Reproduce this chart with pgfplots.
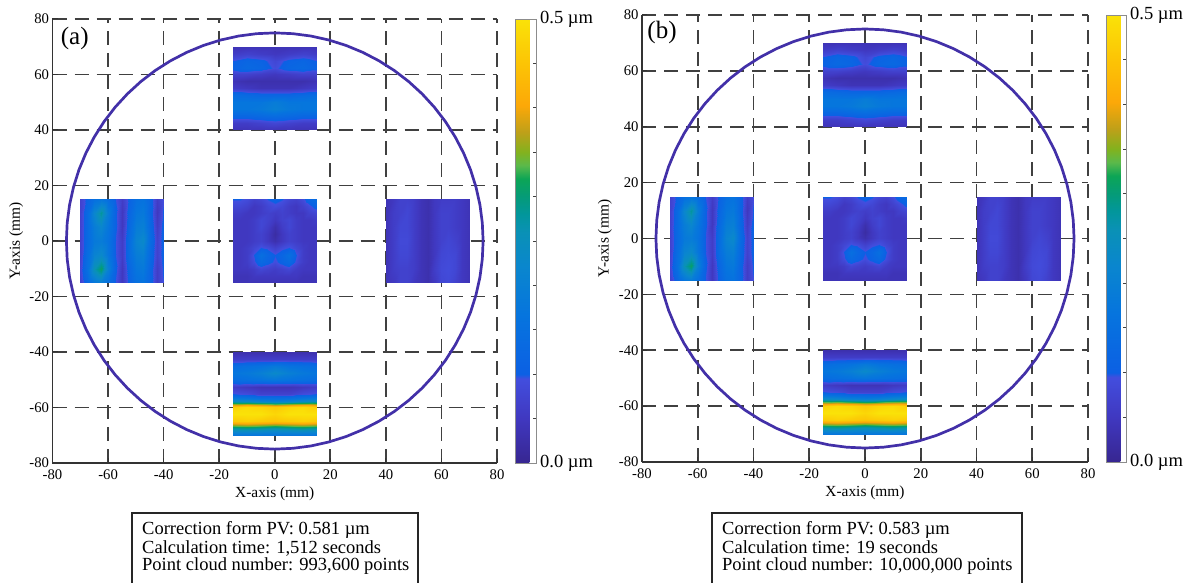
\documentclass[border=0pt]{standalone}
\usepackage{fontspec}
\setmainfont{Liberation Serif}
\usepackage{pgfplots}
\usepackage{pgfplotstable}
\pgfplotsset{compat=1.18}
\definecolor{circ}{RGB}{66,48,168}

\pgfplotsset{
  colormap={parulax}{
    rgb255(0pt)=(55,38,145);
    rgb255(100pt)=(64,56,192);
    rgb255(190pt)=(66,78,222);
    rgb255(200pt)=(12,96,228);
    rgb255(330pt)=(6,116,222);
    rgb255(440pt)=(10,134,206);
    rgb255(520pt)=(10,145,182);
    rgb255(560pt)=(2,150,156);
    rgb255(600pt)=(5,155,120);
    rgb255(640pt)=(12,165,86);
    rgb255(670pt)=(90,185,75);
    rgb255(700pt)=(130,178,30);
    rgb255(745pt)=(190,160,25);
    rgb255(805pt)=(252,168,8);
    rgb255(900pt)=(252,196,5);
    rgb255(1000pt)=(250,226,8)
  },
}

% ---------- surface patches (x y value in micrometre) ----------
\pgfplotstableread[row sep=\\]{
x y c\\
-15 70 0.04\\ -10 70 0.04\\ -5 70 0.04\\ 0 70 0.04\\ 5 70 0.04\\ 10 70 0.04\\ 15 70 0.04\\
-15 67.5 0.06\\ -10 67.5 0.07\\ -5 67.5 0.06\\ 0 67.5 0.05\\ 5 67.5 0.06\\ 10 67.5 0.07\\ 15 67.5 0.06\\
-15 65 0.10\\ -10 65 0.12\\ -5 65 0.11\\ 0 65 0.08\\ 5 65 0.11\\ 10 65 0.12\\ 15 65 0.10\\
-15 62.5 0.11\\ -10 62.5 0.13\\ -5 62.5 0.12\\ 0 62.5 0.09\\ 5 62.5 0.12\\ 10 62.5 0.13\\ 15 62.5 0.11\\
-15 60 0.07\\ -10 60 0.07\\ -5 60 0.06\\ 0 60 0.05\\ 5 60 0.06\\ 10 60 0.07\\ 15 60 0.07\\
-15 57.5 0.04\\ -10 57.5 0.03\\ -5 57.5 0.03\\ 0 57.5 0.03\\ 5 57.5 0.03\\ 10 57.5 0.03\\ 15 57.5 0.04\\
-15 55 0.06\\ -10 55 0.05\\ -5 55 0.04\\ 0 55 0.04\\ 5 55 0.04\\ 10 55 0.05\\ 15 55 0.06\\
-15 52.5 0.14\\ -10 52.5 0.13\\ -5 52.5 0.12\\ 0 52.5 0.12\\ 5 52.5 0.12\\ 10 52.5 0.13\\ 15 52.5 0.14\\
-15 50 0.17\\ -10 50 0.17\\ -5 50 0.17\\ 0 50 0.19\\ 5 50 0.17\\ 10 50 0.17\\ 15 50 0.17\\
-15 47.5 0.17\\ -10 47.5 0.17\\ -5 47.5 0.18\\ 0 47.5 0.20\\ 5 47.5 0.18\\ 10 47.5 0.17\\ 15 47.5 0.17\\
-15 45 0.12\\ -10 45 0.12\\ -5 45 0.13\\ 0 45 0.14\\ 5 45 0.13\\ 10 45 0.12\\ 15 45 0.12\\
-15 42.5 0.06\\ -10 42.5 0.06\\ -5 42.5 0.07\\ 0 42.5 0.08\\ 5 42.5 0.07\\ 10 42.5 0.06\\ 15 42.5 0.06\\
-15 40 0.04\\ -10 40 0.04\\ -5 40 0.04\\ 0 40 0.04\\ 5 40 0.04\\ 10 40 0.04\\ 15 40 0.04\\
}\toppatch

\pgfplotstableread[row sep=\\]{
x y c\\
-15 -40 0.03\\ -10 -40 0.03\\ -5 -40 0.03\\ 0 -40 0.03\\ 5 -40 0.03\\ 10 -40 0.03\\ 15 -40 0.03\\
-15 -42.5 0.06\\ -10 -42.5 0.06\\ -5 -42.5 0.06\\ 0 -42.5 0.06\\ 5 -42.5 0.06\\ 10 -42.5 0.06\\ 15 -42.5 0.06\\
-15 -45 0.14\\ -10 -45 0.15\\ -5 -45 0.16\\ 0 -45 0.18\\ 5 -45 0.16\\ 10 -45 0.15\\ 15 -45 0.14\\
-15 -47.5 0.17\\ -10 -47.5 0.18\\ -5 -47.5 0.20\\ 0 -47.5 0.23\\ 5 -47.5 0.20\\ 10 -47.5 0.18\\ 15 -47.5 0.17\\
-15 -50 0.14\\ -10 -50 0.15\\ -5 -50 0.16\\ 0 -50 0.17\\ 5 -50 0.16\\ 10 -50 0.15\\ 15 -50 0.14\\
-15 -52.5 0.06\\ -10 -52.5 0.05\\ -5 -52.5 0.04\\ 0 -52.5 0.04\\ 5 -52.5 0.04\\ 10 -52.5 0.05\\ 15 -52.5 0.06\\
-15 -55 0.10\\ -10 -55 0.09\\ -5 -55 0.07\\ 0 -55 0.07\\ 5 -55 0.07\\ 10 -55 0.09\\ 15 -55 0.10\\
-15 -57.5 0.24\\ -10 -57.5 0.23\\ -5 -57.5 0.21\\ 0 -57.5 0.20\\ 5 -57.5 0.21\\ 10 -57.5 0.23\\ 15 -57.5 0.24\\
-15 -60 0.47\\ -10 -60 0.49\\ -5 -60 0.48\\ 0 -60 0.46\\ 5 -60 0.48\\ 10 -60 0.49\\ 15 -60 0.47\\
-15 -62.5 0.50\\ -10 -62.5 0.50\\ -5 -62.5 0.50\\ 0 -62.5 0.48\\ 5 -62.5 0.50\\ 10 -62.5 0.50\\ 15 -62.5 0.50\\
-15 -65 0.46\\ -10 -65 0.47\\ -5 -65 0.46\\ 0 -65 0.45\\ 5 -65 0.46\\ 10 -65 0.47\\ 15 -65 0.46\\
-15 -67.5 0.28\\ -10 -67.5 0.29\\ -5 -67.5 0.28\\ 0 -67.5 0.27\\ 5 -67.5 0.28\\ 10 -67.5 0.29\\ 15 -67.5 0.28\\
-15 -70 0.17\\ -10 -70 0.17\\ -5 -70 0.17\\ 0 -70 0.17\\ 5 -70 0.17\\ 10 -70 0.17\\ 15 -70 0.17\\
}\botpatch

\pgfplotstableread[row sep=\\]{
x y c\\
-70 15 0.07\\ -67.5 15 0.11\\ -65 15 0.15\\ -62.5 15 0.17\\ -60 15 0.14\\ -57.5 15 0.10\\ -55 15 0.06\\ -52.5 15 0.11\\ -50 15 0.15\\ -47.5 15 0.16\\ -45 15 0.12\\ -42.5 15 0.06\\ -40 15 0.10\\
-70 10 0.07\\ -67.5 10 0.13\\ -65 10 0.22\\ -62.5 10 0.28\\ -60 10 0.19\\ -57.5 10 0.11\\ -55 10 0.05\\ -52.5 10 0.12\\ -50 10 0.17\\ -47.5 10 0.18\\ -45 10 0.12\\ -42.5 10 0.05\\ -40 10 0.11\\
-70 5 0.07\\ -67.5 5 0.13\\ -65 5 0.19\\ -62.5 5 0.22\\ -60 5 0.17\\ -57.5 5 0.11\\ -55 5 0.05\\ -52.5 5 0.13\\ -50 5 0.19\\ -47.5 5 0.20\\ -45 5 0.13\\ -42.5 5 0.06\\ -40 5 0.12\\
-70 0 0.07\\ -67.5 0 0.13\\ -65 0 0.18\\ -62.5 0 0.19\\ -60 0 0.16\\ -57.5 0 0.10\\ -55 0 0.06\\ -52.5 0 0.14\\ -50 0 0.21\\ -47.5 0 0.23\\ -45 0 0.14\\ -42.5 0 0.07\\ -40 0 0.12\\
-70 -5 0.07\\ -67.5 -5 0.14\\ -65 -5 0.21\\ -62.5 -5 0.23\\ -60 -5 0.17\\ -57.5 -5 0.10\\ -55 -5 0.06\\ -52.5 -5 0.14\\ -50 -5 0.19\\ -47.5 -5 0.20\\ -45 -5 0.13\\ -42.5 -5 0.07\\ -40 -5 0.12\\
-70 -10 0.08\\ -67.5 -10 0.15\\ -65 -10 0.26\\ -62.5 -10 0.31\\ -60 -10 0.20\\ -57.5 -10 0.11\\ -55 -10 0.05\\ -52.5 -10 0.12\\ -50 -10 0.17\\ -47.5 -10 0.18\\ -45 -10 0.12\\ -42.5 -10 0.06\\ -40 -10 0.11\\
-70 -15 0.07\\ -67.5 -15 0.12\\ -65 -15 0.17\\ -62.5 -15 0.19\\ -60 -15 0.15\\ -57.5 -15 0.10\\ -55 -15 0.05\\ -52.5 -15 0.11\\ -50 -15 0.15\\ -47.5 -15 0.16\\ -45 -15 0.12\\ -42.5 -15 0.06\\ -40 -15 0.10\\
}\leftpatch

\pgfplotstableread[row sep=\\]{
x y c\\
40 15 0.04\\ 42.5 15 0.05\\ 45 15 0.07\\ 47.5 15 0.07\\ 50 15 0.06\\ 52.5 15 0.04\\ 55 15 0.03\\ 57.5 15 0.05\\ 60 15 0.06\\ 62.5 15 0.06\\ 65 15 0.06\\ 67.5 15 0.05\\ 70 15 0.04\\
40 10 0.04\\ 42.5 10 0.06\\ 45 10 0.07\\ 47.5 10 0.08\\ 50 10 0.06\\ 52.5 10 0.04\\ 55 10 0.03\\ 57.5 10 0.05\\ 60 10 0.07\\ 62.5 10 0.07\\ 65 10 0.06\\ 67.5 10 0.05\\ 70 10 0.04\\
40 5 0.04\\ 42.5 5 0.06\\ 45 5 0.08\\ 47.5 5 0.08\\ 50 5 0.06\\ 52.5 5 0.04\\ 55 5 0.03\\ 57.5 5 0.05\\ 60 5 0.07\\ 62.5 5 0.07\\ 65 5 0.06\\ 67.5 5 0.05\\ 70 5 0.04\\
40 0 0.04\\ 42.5 0 0.06\\ 45 0 0.085\\ 47.5 0 0.085\\ 50 0 0.06\\ 52.5 0 0.04\\ 55 0 0.03\\ 57.5 0 0.05\\ 60 0 0.07\\ 62.5 0 0.08\\ 65 0 0.07\\ 67.5 0 0.05\\ 70 0 0.04\\
40 -5 0.04\\ 42.5 -5 0.06\\ 45 -5 0.08\\ 47.5 -5 0.08\\ 50 -5 0.06\\ 52.5 -5 0.04\\ 55 -5 0.03\\ 57.5 -5 0.05\\ 60 -5 0.08\\ 62.5 -5 0.085\\ 65 -5 0.08\\ 67.5 -5 0.05\\ 70 -5 0.04\\
40 -10 0.04\\ 42.5 -10 0.06\\ 45 -10 0.07\\ 47.5 -10 0.07\\ 50 -10 0.06\\ 52.5 -10 0.04\\ 55 -10 0.03\\ 57.5 -10 0.06\\ 60 -10 0.085\\ 62.5 -10 0.09\\ 65 -10 0.08\\ 67.5 -10 0.05\\ 70 -10 0.04\\
40 -15 0.04\\ 42.5 -15 0.05\\ 45 -15 0.07\\ 47.5 -15 0.07\\ 50 -15 0.05\\ 52.5 -15 0.04\\ 55 -15 0.03\\ 57.5 -15 0.05\\ 60 -15 0.08\\ 62.5 -15 0.085\\ 65 -15 0.07\\ 67.5 -15 0.05\\ 70 -15 0.04\\
}\rightpatch

\pgfplotstableread[row sep=\\]{
x y c\\
-15 15 0.10\\ -12.5 15 0.10\\ -10 15 0.09\\ -7.5 15 0.07\\ -5 15 0.08\\ -2.5 15 0.10\\ 0 15 0.11\\ 2.5 15 0.10\\ 5 15 0.08\\ 7.5 15 0.07\\ 10 15 0.09\\ 12.5 15 0.12\\ 15 15 0.14\\
-15 12.5 0.08\\ -12.5 12.5 0.08\\ -10 12.5 0.07\\ -7.5 12.5 0.05\\ -5 12.5 0.06\\ -2.5 12.5 0.08\\ 0 12.5 0.09\\ 2.5 12.5 0.08\\ 5 12.5 0.06\\ 7.5 12.5 0.05\\ 10 12.5 0.07\\ 12.5 12.5 0.09\\ 15 12.5 0.11\\
-15 10 0.06\\ -12.5 10 0.06\\ -10 10 0.05\\ -7.5 10 0.05\\ -5 10 0.06\\ -2.5 10 0.07\\ 0 10 0.06\\ 2.5 10 0.07\\ 5 10 0.06\\ 7.5 10 0.05\\ 10 10 0.05\\ 12.5 10 0.07\\ 15 10 0.08\\
-15 7.5 0.05\\ -12.5 7.5 0.05\\ -10 7.5 0.05\\ -7.5 7.5 0.06\\ -5 7.5 0.08\\ -2.5 7.5 0.07\\ 0 7.5 0.05\\ 2.5 7.5 0.07\\ 5 7.5 0.08\\ 7.5 7.5 0.06\\ 10 7.5 0.05\\ 12.5 7.5 0.05\\ 15 7.5 0.06\\
-15 5 0.05\\ -12.5 5 0.05\\ -10 5 0.05\\ -7.5 5 0.06\\ -5 5 0.08\\ -2.5 5 0.06\\ 0 5 0.03\\ 2.5 5 0.06\\ 5 5 0.08\\ 7.5 5 0.06\\ 10 5 0.05\\ 12.5 5 0.05\\ 15 5 0.05\\
-15 2.5 0.05\\ -12.5 2.5 0.05\\ -10 2.5 0.05\\ -7.5 2.5 0.06\\ -5 2.5 0.07\\ -2.5 2.5 0.05\\ 0 2.5 0.02\\ 2.5 2.5 0.05\\ 5 2.5 0.07\\ 7.5 2.5 0.06\\ 10 2.5 0.05\\ 12.5 2.5 0.05\\ 15 2.5 0.05\\
-15 0 0.05\\ -12.5 0 0.05\\ -10 0 0.05\\ -7.5 0 0.06\\ -5 0 0.07\\ -2.5 0 0.05\\ 0 0 0.03\\ 2.5 0 0.05\\ 5 0 0.07\\ 7.5 0 0.06\\ 10 0 0.05\\ 12.5 0 0.05\\ 15 0 0.05\\
-15 -2.5 0.05\\ -12.5 -2.5 0.05\\ -10 -2.5 0.06\\ -7.5 -2.5 0.08\\ -5 -2.5 0.10\\ -2.5 -2.5 0.09\\ 0 -2.5 0.07\\ 2.5 -2.5 0.09\\ 5 -2.5 0.10\\ 7.5 -2.5 0.08\\ 10 -2.5 0.06\\ 12.5 -2.5 0.05\\ 15 -2.5 0.05\\
-15 -5 0.05\\ -12.5 -5 0.05\\ -10 -5 0.06\\ -7.5 -5 0.10\\ -5 -5 0.15\\ -2.5 -5 0.12\\ 0 -5 0.10\\ 2.5 -5 0.12\\ 5 -5 0.15\\ 7.5 -5 0.10\\ 10 -5 0.06\\ 12.5 -5 0.05\\ 15 -5 0.05\\
-15 -7.5 0.05\\ -12.5 -7.5 0.05\\ -10 -7.5 0.06\\ -7.5 -7.5 0.09\\ -5 -7.5 0.13\\ -2.5 -7.5 0.11\\ 0 -7.5 0.09\\ 2.5 -7.5 0.11\\ 5 -7.5 0.13\\ 7.5 -7.5 0.09\\ 10 -7.5 0.06\\ 12.5 -7.5 0.05\\ 15 -7.5 0.05\\
-15 -10 0.05\\ -12.5 -10 0.05\\ -10 -10 0.05\\ -7.5 -10 0.06\\ -5 -10 0.08\\ -2.5 -10 0.07\\ 0 -10 0.06\\ 2.5 -10 0.07\\ 5 -10 0.08\\ 7.5 -10 0.06\\ 10 -10 0.05\\ 12.5 -10 0.05\\ 15 -10 0.05\\
-15 -12.5 0.04\\ -12.5 -12.5 0.04\\ -10 -12.5 0.04\\ -7.5 -12.5 0.05\\ -5 -12.5 0.05\\ -2.5 -12.5 0.05\\ 0 -12.5 0.05\\ 2.5 -12.5 0.05\\ 5 -12.5 0.05\\ 7.5 -12.5 0.05\\ 10 -12.5 0.04\\ 12.5 -12.5 0.04\\ 15 -12.5 0.04\\
-15 -15 0.04\\ -12.5 -15 0.04\\ -10 -15 0.04\\ -7.5 -15 0.04\\ -5 -15 0.04\\ -2.5 -15 0.04\\ 0 -15 0.04\\ 2.5 -15 0.04\\ 5 -15 0.04\\ 7.5 -15 0.04\\ 10 -15 0.04\\ 12.5 -15 0.04\\ 15 -15 0.04\\
}\centerpatch

% ---------- wafer outline, radius 75 mm ----------
\pgfplotstableread[row sep=\\]{
x y\\
75 0\\ 74.71 6.54\\ 73.86 13.02\\ 72.44 19.41\\ 70.48 25.65\\ 67.97 31.70\\ 64.95 37.5\\ 61.44 43.02\\ 57.45 48.21\\ 53.03 53.03\\
48.21 57.45\\ 43.02 61.44\\ 37.5 64.95\\ 31.70 67.97\\ 25.65 70.48\\ 19.41 72.44\\ 13.02 73.86\\ 6.54 74.71\\ 0 75\\
-6.54 74.71\\ -13.02 73.86\\ -19.41 72.44\\ -25.65 70.48\\ -31.70 67.97\\ -37.5 64.95\\ -43.02 61.44\\ -48.21 57.45\\ -53.03 53.03\\
-57.45 48.21\\ -61.44 43.02\\ -64.95 37.5\\ -67.97 31.70\\ -70.48 25.65\\ -72.44 19.41\\ -73.86 13.02\\ -74.71 6.54\\ -75 0\\
-74.71 -6.54\\ -73.86 -13.02\\ -72.44 -19.41\\ -70.48 -25.65\\ -67.97 -31.70\\ -64.95 -37.5\\ -61.44 -43.02\\ -57.45 -48.21\\ -53.03 -53.03\\
-48.21 -57.45\\ -43.02 -61.44\\ -37.5 -64.95\\ -31.70 -67.97\\ -25.65 -70.48\\ -19.41 -72.44\\ -13.02 -73.86\\ -6.54 -74.71\\ 0 -75\\
6.54 -74.71\\ 13.02 -73.86\\ 19.41 -72.44\\ 25.65 -70.48\\ 31.70 -67.97\\ 37.5 -64.95\\ 43.02 -61.44\\ 48.21 -57.45\\ 53.03 -53.03\\
57.45 -48.21\\ 61.44 -43.02\\ 64.95 -37.5\\ 67.97 -31.70\\ 70.48 -25.65\\ 72.44 -19.41\\ 73.86 -13.02\\ 74.71 -6.54\\ 75 0\\
}\circtab

\pgfplotsset{
  waferpanel/.style={
    scale only axis,
    anchor=south west,
    xmin=-80, xmax=80, ymin=-80, ymax=80,
    axis x line*=bottom, axis y line*=left,
    xtick={-80,-60,-40,-20,0,20,40,60,80},
    ytick={-80,-60,-40,-20,0,20,40,60,80},
    xticklabels={-80,-60,-40,-20,0,20,40,60,80},
    yticklabels={-80,-60,-40,-20,0,20,40,60,80},
    grid=major,
    major grid style={draw=black!75, line width=1.7pt, dash pattern=on 14pt off 8pt},
    axis line style={draw=black!80, line width=1.4pt},
    tick align=inside, major tick length=5pt,
    tick style={draw=black!80, line width=1pt},
    ticklabel style={font=\fontsize{14.7}{15}\selectfont},
    xticklabel style={yshift=-3pt},
    xlabel={X-axis (mm)}, ylabel={Y-axis (mm)},
    label style={font=\fontsize{15.4}{16}\selectfont},
    point meta min=0, point meta max=0.5,
    colormap name=parulax,
    colorbar,
  },
  cbarstyle/.style={
    at={(parent axis.north east)}, anchor=north west, xshift=9.5pt,
    scale only axis,
    axis lines*=box, grid=none,
    xtick=\empty, xticklabels={}, xlabel={}, ylabel={},
    ytick={0,0.05,0.1,0.15,0.2,0.25,0.3,0.35,0.4,0.45,0.5},
    yticklabels={0.0 µm,,,,,,,,,,0.5 µm},
    ytick pos=right, yticklabel pos=right,
    tick align=inside, major tick length=3pt,
    tick style={draw=black!75, line width=0.8pt},
    axis line style={draw=black!45, line width=0.6pt},
    yticklabel style={font=\fontsize{18.5}{19}\selectfont, inner sep=2pt, xshift=2pt},
  },
  patch/.style={surf, shader=interp, mesh/cols=#1, point meta=\thisrow{c}},
}

\begin{document}
\begin{tikzpicture}
\useasboundingbox (0,0) rectangle (1187pt,583pt);

% ---------------- panel (a) ----------------
\begin{axis}[waferpanel,
  at={(52.5pt,120pt)}, width=444.5pt, height=444pt,
  xlabel style={at={(axis description cs:0.5,-0.069)}, anchor=center},
  ylabel style={at={(axis description cs:-0.082,0.5)}, anchor=center},
  colorbar style={cbarstyle, width=21pt, height=444pt}]
\addplot[patch=7] table[x=x,y=y] {\toppatch};
\addplot[patch=7] table[x=x,y=y] {\botpatch};
\addplot[patch=13] table[x=x,y=y] {\leftpatch};
\addplot[patch=13] table[x=x,y=y] {\rightpatch};
\addplot[patch=13] table[x=x,y=y] {\centerpatch};
\addplot[draw=circ, line width=2.7pt] table[x=x,y=y] {\circtab};
\node[font=\fontsize{25}{25}\selectfont] at (axis description cs:0.05,0.955) {(a)};
\end{axis}

% ---------------- panel (b) ----------------
\begin{axis}[waferpanel,
  at={(642pt,121pt)}, width=446pt, height=447pt,
  xlabel style={at={(axis description cs:0.5,-0.069)}, anchor=center},
  ylabel style={at={(axis description cs:-0.083,0.5)}, anchor=center},
  colorbar style={cbarstyle, width=20pt, height=447pt}]
\addplot[patch=7] table[x=x,y=y] {\toppatch};
\addplot[patch=7] table[x=x,y=y] {\botpatch};
\addplot[patch=13] table[x=x,y=y] {\leftpatch};
\addplot[patch=13] table[x=x,y=y] {\rightpatch};
\addplot[patch=13] table[x=x,y=y] {\centerpatch};
\addplot[draw=circ, line width=2.7pt] table[x=x,y=y] {\circtab};
\node[font=\fontsize{25}{25}\selectfont] at (axis description cs:0.045,0.96) {(b)};
\end{axis}

% ---------------- info boxes ----------------
\draw[black!85, line width=1.2pt] (132pt,-6pt) rectangle (418pt,70pt);
\begin{scope}[every node/.style={anchor=base west, inner sep=0pt, font=\fontsize{18.5}{18}\selectfont}]
\node at (142pt,48pt) {Correction form PV: 0.581 µm};
\node at (142pt,29.7pt) {Calculation time: 1,512 seconds};
\node at (142pt,12pt) {Point cloud number: 993,600 points};
\end{scope}
\draw[black!85, line width=1.2pt] (712pt,-6pt) rectangle (1022pt,70pt);
\begin{scope}[every node/.style={anchor=base west, inner sep=0pt, font=\fontsize{18.5}{18}\selectfont}]
\node at (722pt,48pt) {Correction form PV: 0.583 µm};
\node at (722pt,29.7pt) {Calculation time: 19 seconds};
\node at (722pt,12pt) {Point cloud number: 10,000,000 points};
\end{scope}
\end{tikzpicture}
\end{document}
